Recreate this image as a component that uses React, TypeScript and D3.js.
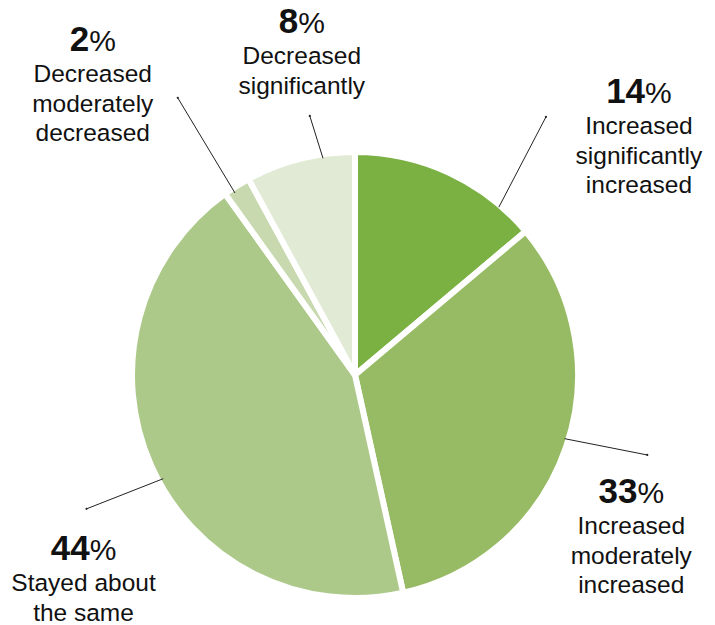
import React from "react";
import * as d3 from "d3";

const categories = [
  ["Increased", "significantly", "increased"],
  ["Increased", "moderately", "increased"],
  ["Stayed about", "the same"],
  ["Decreased", "moderately", "decreased"],
  ["Decreased", "significantly"],
];
const values = [14, 33, 44, 2, 8];
const colors = ["#7ab142", "#97bb64", "#adc98a", "#c8d9af", "#e1ead5"];

// label layout: leader line angles (deg, clockwise from north), radii, text offset from line end
const labelLayout = [
  { a1: 40.6, a2: 36.5, r1: 221, r2: 321, dx: 93, dy: -14 },
  { a1: 106.9, a2: 105.3, r1: 219, r2: 303, dx: -16, dy: 48 },
  { a1: 241.6, a2: 243.5, r1: 218, r2: 300, dx: -3, dy: 51 },
  { a1: 326.6, a2: 327.4, r1: 218, r2: 329, dx: -85, dy: -47 },
  { a1: 351.6, a2: 350.1, r1: 219, r2: 263, dx: -8, dy: -83 },
];

const W = 715;
const H = 625;
const CX = 355;
const CY = 375;
const R = 223;
const FONT = "'Liberation Sans', Arial, Helvetica, sans-serif";

function polar(angleDeg: number, r: number): [number, number] {
  const a = (angleDeg * Math.PI) / 180;
  return [CX + r * Math.sin(a), CY - r * Math.cos(a)];
}

export default function App() {
  const pie = d3.pie<number>().sort(null).value((d) => d);
  const arcs = pie(values);
  const arcGen = d3.arc<d3.PieArcDatum<number>>().innerRadius(0).outerRadius(R);

  return (
    <svg
      width={W}
      height={H}
      style={{ position: "absolute", left: 0, top: 0, background: "#fff" }}
    >
      <g transform={`translate(${CX},${CY})`}>
        {arcs.map((a, i) => (
          <path
            key={i}
            d={arcGen(a) || ""}
            fill={colors[i]}
            stroke="#fff"
            strokeWidth={6}
            strokeLinejoin="miter"
          />
        ))}
      </g>
      {values.map((v, i) => {
        const L = labelLayout[i];
        const [x1, y1] = polar(L.a1, L.r1);
        const [x2, y2] = polar(L.a2, L.r2);
        const tx = x2 + L.dx;
        const ty = y2 + L.dy;
        return (
          <g key={i}>
            <line x1={x1} y1={y1} x2={x2} y2={y2} stroke="#222" strokeWidth={1} />
            <circle cx={x2} cy={y2} r={1.1} fill="#222" />
            <text x={tx} y={ty} textAnchor="middle" fontFamily={FONT} fill="#111">
              <tspan fontSize={35} fontWeight={700}>{v}</tspan>
              <tspan fontSize={30} fontWeight={400}>%</tspan>
            </text>
            {categories[i].map((line, j) => (
              <text
                key={j}
                x={tx}
                y={ty + 31 + j * 29.7}
                textAnchor="middle"
                fontFamily={FONT}
                fontSize={24.5}
                fill="#111"
              >
                {line}
              </text>
            ))}
          </g>
        );
      })}
    </svg>
  );
}
